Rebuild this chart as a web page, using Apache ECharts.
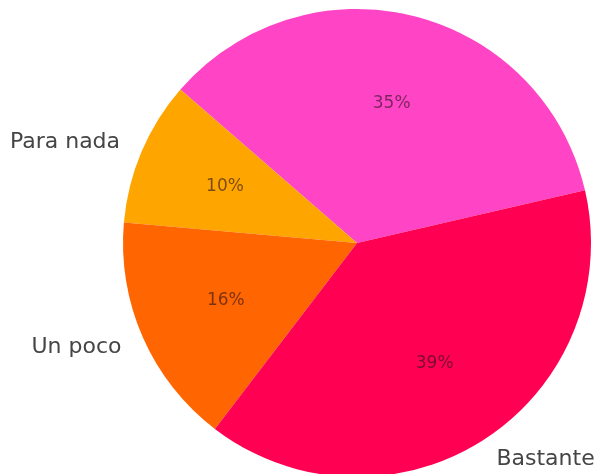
<!DOCTYPE html>
<html>
<head>
<meta charset="utf-8">
<script src="https://cdn.jsdelivr.net/npm/echarts@6/dist/echarts.min.js"></script>
<style>
  html, body { margin: 0; padding: 0; background: #ffffff; }
  #chart { width: 604px; height: 474px; }
</style>
</head>
<body>
<div id="chart"></div>
<script>
// Response categories (counter-clockwise order) and their shares
const categories = ['Mucho', 'Para nada', 'Un poco', 'Bastante'];
const shares = [35, 10, 16, 39];
const colors = ['#ff45c6', '#ffa500', '#ff6500', '#ff0052'];
// Category names shown beside the pie
const showName = [false, true, true, true];

const CX = 357, CY = 243, R = 234;

const chart = echarts.init(document.getElementById('chart'), null, { renderer: 'canvas' });

const wedges = categories.map((name, i) => ({
  name: name,
  value: shares[i],
  itemStyle: { color: colors[i] },
  label: { show: showName[i] }
}));

const percentLabels = categories.map((name, i) => ({ name: name, value: shares[i] }));

chart.setOption({
  animation: false,
  backgroundColor: '#ffffff',
  series: [
    {
      type: 'pie',
      center: [CX, CY],
      radius: [0, R],
      startAngle: 13,
      clockwise: false,
      avoidLabelOverlap: false,
      silent: true,
      data: wedges,
      itemStyle: { borderWidth: 0 },
      label: {
        position: 'outside',
        formatter: '{b}',
        fontFamily: 'DejaVu Sans',
        fontSize: 22,
        color: '#454545',
        distanceToLabelLine: 0
      },
      labelLine: { show: false, length: R * 0.1, length2: 0 }
    },
    {
      // transparent ring whose mid radius (0.6 R) carries the percentages
      type: 'pie',
      center: [CX, CY],
      radius: [R * 0.2, R],
      startAngle: 13,
      clockwise: false,
      avoidLabelOverlap: false,
      silent: true,
      data: percentLabels,
      itemStyle: { color: 'rgba(0,0,0,0)', borderWidth: 0 },
      label: {
        position: 'inside',
        formatter: p => Math.round(p.percent) + '%',
        fontFamily: 'DejaVu Sans',
        fontSize: 17,
        color: 'rgba(40,20,30,0.62)'
      },
      labelLine: { show: false }
    }
  ]
});
</script>
</body>
</html>
